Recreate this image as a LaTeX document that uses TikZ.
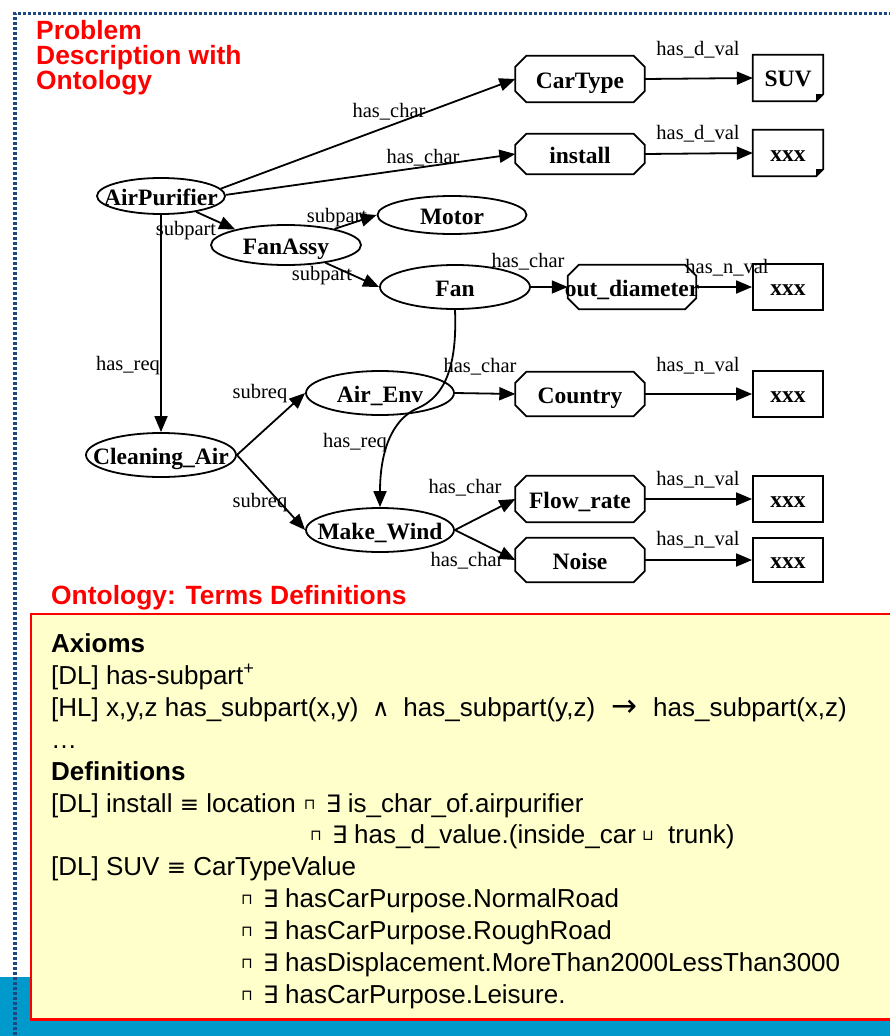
\documentclass[tikz,border=0pt]{standalone}
\usepackage{fontspec}
\setmainfont{Liberation Serif}
\newfontfamily\arialf{Liberation Sans}
\newfontfamily\symf{DejaVu Sans}
\usetikzlibrary{arrows.meta,shapes.geometric}

\definecolor{titlered}{RGB}{255,0,0}
\definecolor{frameblue}{RGB}{30,72,130}
\definecolor{stripblue}{RGB}{0,153,204}
\definecolor{noteyellow}{RGB}{255,255,204}

% text helpers
\newcommand\zw[1]{\makebox[0pt]{#1}}
\newcommand\nodefont{\fontsize{23.5}{26}\selectfont\bfseries}
\newcommand\lblfont{\fontsize{20.5}{23}\selectfont}
\newcommand\deffont{\arialf\fontsize{26}{31}\selectfont}
\newcommand\titlefont{\arialf\fontsize{26.4}{25}\selectfont\bfseries}
% logic symbols
\newcommand\qcap{\makebox[22pt][l]{\raisebox{3pt}{\symf\fontsize{15}{15}\selectfont ⊓}}}
\newcommand\qcup{\makebox[26pt][l]{\raisebox{3pt}{\symf\fontsize{15}{15}\selectfont ⊔}}}
\newcommand\qex{\makebox[22pt][l]{\symf\fontsize{24}{24}\selectfont ∃}}
\newcommand\qand{\makebox[45pt]{\symf\fontsize{24}{24}\selectfont ∧}}
\newcommand\qto{\makebox[58pt]{\symf\fontsize{31}{31}\selectfont →}}
\newcommand\qeq{{\symf\fontsize{23}{23}\selectfont ≡}}

% octagon frame around a rectangular node
\newcommand\octframe[1]{%
  \draw[gline] ([xshift=11pt]#1.north west) -- ([xshift=-11pt]#1.north east)
    -- ([yshift=-11pt]#1.north east) -- ([yshift=11pt]#1.south east)
    -- ([xshift=-11pt]#1.south east) -- ([xshift=11pt]#1.south west)
    -- ([yshift=11pt]#1.south west) -- ([yshift=-11pt]#1.north west) -- cycle;}
% note frame with a folded lower right corner
\newcommand\noteframe[1]{%
  \draw[gline] (#1.north west) -- (#1.north east) -- ([yshift=7pt]#1.south east)
    -- ([xshift=-7pt]#1.south east) -- (#1.south west) -- cycle;
  \fill ([yshift=7pt]#1.south east) -- ([xshift=-7pt]#1.south east)
    -- ([xshift=-7pt,yshift=7pt]#1.south east) -- cycle;}

\tikzset{
  gline/.style={line width=1.8pt, black},
  arc/.style={gline, -{Triangle[length=16pt,width=13pt]}},
  conc/.style={ellipse, draw, gline, minimum width=150pt, minimum height=44pt,
    inner sep=0pt, font=\nodefont, text height=20pt, text depth=2pt},
  octbox/.style={rectangle, minimum width=129pt, minimum height=44pt,
    inner sep=0pt, font=\nodefont, text height=20pt, text depth=2pt},
  valbox/.style={rectangle, minimum width=70pt, minimum height=46pt,
    inner sep=0pt, font=\nodefont, text height=17pt, text depth=1pt},
  lbl/.style={anchor=base, inner sep=0pt, font=\lblfont},
  ttl/.style={anchor=base west, inner sep=0pt, font=\titlefont, text=titlered},
  deftext/.style={anchor=base west, inner sep=0pt, font=\deffont},
}

\begin{document}
\begin{tikzpicture}[x=1pt,y=-1pt]
\useasboundingbox (0,0) rectangle (889,1036);

% backdrop: blue strip, definitions panel, dotted frame
\fill[stripblue] (0,977) rectangle (892,1039);
\draw[titlered, line width=2.5pt, fill=noteyellow] (31,614) rectangle (895,1019.5);
\draw[frameblue, line width=3.4pt, dash pattern=on 3pt off 2pt] (15,1040) -- (15,13.5) -- (893,13.5);

% headings
\node[ttl] (t1) at (36,39) {Problem};
\node[ttl] (t2) at (36,64) {Description with};
\node[ttl] (t3) at (36,89) {Ontology};
\node[ttl] (t4) at (51,604) {Ontology: Terms Definitions};

% concept nodes
\node[conc, minimum width=128pt, minimum height=36pt] (ap) at (161,196) {\zw{AirPurifier}};
\node[conc, minimum height=40pt] (fa) at (286,245) {\zw{FanAssy}};
\node[conc, minimum width=149pt, minimum height=38pt] (motor) at (452,215) {\zw{Motor}};
\node[conc] (fan) at (455,287) {\zw{Fan}};
\node[conc, minimum width=148pt] (ae) at (380,393) {\zw{Air\_Env}};
\node[conc, minimum width=148pt] (mw) at (380,530) {\zw{Make\_Wind}};
\node[conc] (ca) at (161,455) {\zw{Cleaning\_Air}};

% characteristic nodes
\node[octbox, minimum height=46pt] (car) at (580,79) {\zw{CarType}};
\node[octbox, minimum height=40pt] (inst) at (580,154) {\zw{install}};
\node[octbox, minimum width=128pt] (od) at (632,287) {\zw{out\_diameter}};
\node[octbox] (country) at (580,394) {\zw{Country}};
\node[octbox, minimum height=46pt] (flow) at (580,499) {\zw{Flow\_rate}};
\node[octbox] (noise) at (580,560) {\zw{Noise}};
\foreach \n in {car,inst,od,country,flow,noise} {\octframe{\n}}

% value nodes
\node[valbox] (suv) at (788,78) {SUV};
\node[valbox] (instv) at (788,153) {xxx};
\node[valbox, draw, gline] (odv) at (788,287) {xxx};
\node[valbox, draw, gline] (countryv) at (788,394) {xxx};
\node[valbox, draw, gline] (flowv) at (788,499) {xxx};
\node[valbox, draw, gline, minimum height=44pt] (noisev) at (788,560) {xxx};
\noteframe{suv}
\noteframe{instv}

% relations
\draw[arc] (ap.7) -- (car.west);
\draw[arc] (ap.1) -- (inst.west);
\draw[arc] (ap) -- (fa.163);
\draw[arc] (ap) -- (ca);
\draw[arc] (fa) -- (motor.west);
\draw[arc] (fa) -- (fan.west);
\draw[arc] (fan.east) -- (od.west);
\draw[arc] (fan.south) .. controls (457,360) and (448,395) .. (418,408)
  .. controls (390,420) and (380,455) .. (mw.north);
\draw[arc] (car.east) -- (suv.west);
\draw[arc] (inst.east) -- (instv.west);
\draw[arc] (od.east) -- (odv.west);
\draw[arc] (ca.east) -- (ae.west);
\draw[arc] (ca.east) -- (mw.west);
\draw[arc] (ae.east) -- (country.west);
\draw[arc] (country.east) -- (countryv.west);
\draw[arc] (mw.east) -- (flow.west);
\draw[arc] (mw.east) -- (noise.west);
\draw[arc] (flow.east) -- (flowv.west);
\draw[arc] (noise.east) -- (noisev.west);

% relation labels
\node[lbl] (l-car) at (389,117) {has\_char};
\node[lbl] (l-inst) at (423,163) {has\_char};
\node[lbl] (l-suv) at (698,55) {has\_d\_val};
\node[lbl] (l-instv) at (698,139) {has\_d\_val};
\node[lbl] (l-fa) at (186,235) {subpart};
\node[lbl] (l-motor) at (337,222) {subpart};
\node[lbl] (l-fan) at (322,280) {subpart};
\node[lbl] (l-ca) at (128,370) {has\_req};
\node[lbl] (l-od) at (528,267) {has\_char};
\node[lbl] (l-odv) at (727,273) {has\_n\_val};
\node[lbl] (l-country) at (480,372) {has\_char};
\node[lbl] (l-countryv) at (698,371) {has\_n\_val};
\node[lbl] (l-ae) at (260,398) {subreq};
\node[lbl] (l-mw) at (260,507) {subreq};
\node[lbl] (l-req) at (355,447) {has\_req};
\node[lbl] (l-flow) at (465,493) {has\_char};
\node[lbl] (l-noise) at (467,566) {has\_char};
\node[lbl] (l-flowv) at (698,485) {has\_n\_val};
\node[lbl] (l-noisev) at (698,545) {has\_n\_val};

% definitions panel text
\node[deftext, font=\deffont\bfseries] (ax) at (51,652) {Axioms};
\node[deftext] (d1) at (51,684) {[DL] has-subpart\textsuperscript{+}};
\node[deftext] (d2) at (51,716) {[HL] x,y,z has\_subpart(x,y)\qand has\_subpart(y,z)\qto has\_subpart(x,z)};
\node[deftext] (d3) at (51,748) {…};
\node[deftext, font=\deffont\bfseries] (df) at (51,780) {Definitions};
\node[deftext] (d4) at (51,812) {[DL] install \qeq{} location\hspace{8pt}\qcap\qex is\_char\_of.airpurifier};
\node[deftext] (d5) at (310,843) {\qcap\qex has\_d\_value.(inside\_car\hspace{6pt}\qcup trunk)};
\node[deftext] (d6) at (51,875) {[DL] SUV \qeq{} CarTypeValue};
\node[deftext] (d7) at (241,907) {\qcap\qex hasCarPurpose.NormalRoad};
\node[deftext] (d8) at (241,939) {\qcap\qex hasCarPurpose.RoughRoad};
\node[deftext] (d9) at (241,971) {\qcap\qex hasDisplacement.MoreThan2000LessThan3000};
\node[deftext] (d10) at (241,1003) {\qcap\qex hasCarPurpose.Leisure.};
\end{tikzpicture}
\end{document}
